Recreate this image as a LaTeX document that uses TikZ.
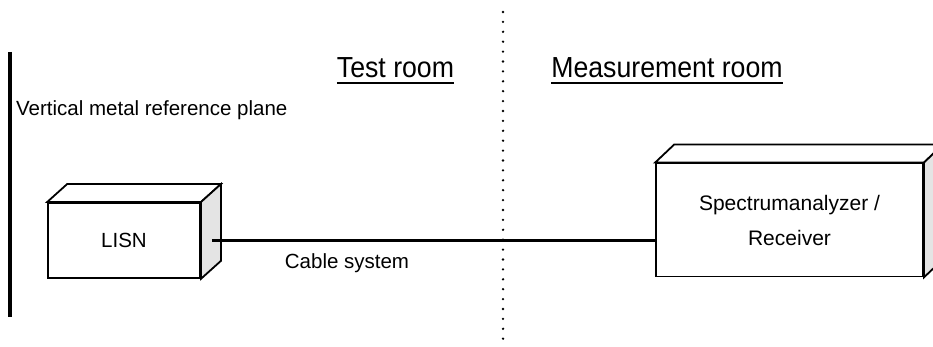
\documentclass[tikz,border=0pt]{standalone}
\usepackage{fontspec}
\setmainfont{Liberation Sans}
\usetikzlibrary{calc}
\definecolor{sidegray}{HTML}{E4E4E4}
\tikzset{
  boxline/.style={draw=black, line width=1.8pt, line join=miter},
  frontbox/.style={boxline, fill=white, inner sep=0pt},
  lbl/.style={font=\fontsize{20.5}{24}\selectfont, inner sep=0pt},
  roomlbl/.style={font=\fontsize{29}{32}\selectfont, xscale=0.92, inner sep=0pt, anchor=base},
  uline/.style={line width=1.6pt},
  cable/.style={line width=3pt},
  plane/.style={line width=4pt},
  divider/.style={line width=2.6pt, line cap=round, dash pattern=on 0pt off 9.9pt}
}
\begin{document}
\begin{tikzpicture}[x=1pt,y=1pt]
\useasboundingbox (0,0) rectangle (933,347);
\clip (0,0) rectangle (933,347);

% vertical metal reference plane
\coordinate (pt) at (10,295);
\coordinate (pb) at (10,30);
\draw[plane] (pt) -- (pb);
\node[lbl, anchor=west] (planelbl) at (16,237) {Vertical metal reference plane};

% dotted separator
\coordinate (dt) at (503,335);
\coordinate (db) at (503,7);
\draw[divider] (dt) -- (db);

% room labels
\node[roomlbl] (test) at (395.5,269) {Test room};
\node[roomlbl] (meas) at (667,269) {Measurement room};
\draw[uline] ([yshift=-5pt]test.base west) -- ([yshift=-5pt]test.base east);
\draw[uline] ([yshift=-5pt]meas.base west) -- ([yshift=-5pt]meas.base east);

% LISN box
\node[frontbox, minimum width=152pt, minimum height=75pt, lbl] (lisn) at (124,106.5) {LISN};
\draw[boxline, fill=white] (lisn.north west) -- ++(20,18) -- ($(lisn.north east)+(20,18)$) -- (lisn.north east) -- cycle;
\draw[boxline, fill=sidegray] (lisn.north east) -- ++(20,18) -- ($(lisn.south east)+(20,18)$) -- (lisn.south east) -- cycle;

% Spectrum analyzer box
\node[frontbox, minimum width=267pt, minimum height=113pt, align=center,
      font=\fontsize{21}{35}\selectfont] (sa) at (789.5,127) {Spectrumanalyzer /\\Receiver};
\draw[boxline, fill=white] (sa.north west) -- ++(19,18) -- ($(sa.north east)+(19,18)$) -- (sa.north east) -- cycle;
\draw[boxline, fill=sidegray] (sa.north east) -- ++(19,18) -- ($(sa.south east)+(19,18)$) -- (sa.south east) -- cycle;

% cable
\coordinate (port) at ($(lisn.east)+(11,0)$);
\draw[cable] (port) -- (port -| sa.west);
\node[lbl] (cablelbl) at (347,84) {Cable system};
\end{tikzpicture}
\end{document}
